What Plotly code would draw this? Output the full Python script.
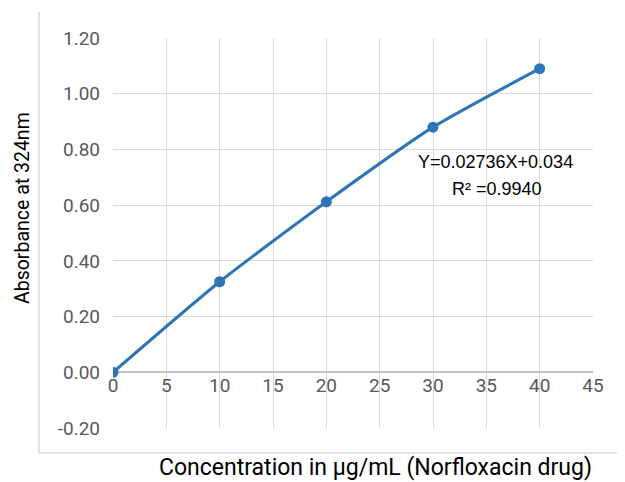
import plotly.graph_objects as go

conc = [0, 10, 20, 30, 40]
absorbance = [0.0, 0.325, 0.612, 0.880, 1.090]
x_ticks = [0, 5, 10, 15, 20, 25, 30, 35, 40, 45]
y_ticks = [-0.2, 0.0, 0.2, 0.4, 0.6, 0.8, 1.0, 1.2]
y_tick_text = ["-0.20", "0.00", "0.20", "0.40", "0.60", "0.80", "1.00", "1.20"]
eq_text = "Y=0.02736X+0.034"
r2_text = "R² =0.9940"
x_title = "Concentration in µg/mL (Norfloxacin drug)"
y_title = "Absorbance at 324nm"

# page has an 8px body margin; work in window pixels and subtract it
OFF = 8
W, H = 625 - OFF, 482 - OFF
PL, PR, PT, PB = 113, 593, 38, 428  # plot area in window pixels
L, T = PL - OFF, PT - OFF
R = W - (PR - OFF)
B = H - (PB - OFF)
ymin, ymax = -0.2, 1.2
zero_pos = (0 - ymin) / (ymax - ymin)

def px(xw):
    return (xw - PL) / (PR - PL)

def py(yw):
    return (PB - yw) / (PB - PT)

fig = go.Figure()
fig.add_trace(go.Scatter(
    x=conc, y=absorbance, mode="lines+markers",
    line=dict(color="#2f75b5", width=3, shape="spline", smoothing=0.6),
    marker=dict(color="#2f75b5", size=11),
    showlegend=False, hoverinfo="x+y"))
fig.add_trace(go.Scatter(x=[0, 45], y=[None, None], xaxis="x2", showlegend=False,
                         hoverinfo="skip"))

tick_font = dict(family="Roboto", size=19, color="#595959")
fig.update_layout(
    width=W, height=H,
    margin=dict(l=L, r=R, t=T, b=B),
    paper_bgcolor="white", plot_bgcolor="white",
    xaxis=dict(range=[0, 45], tickvals=x_ticks, showticklabels=False,
               showgrid=True, gridcolor="#d9d9d9", gridwidth=1,
               zeroline=False, showline=False, ticks=""),
    xaxis2=dict(range=[0, 45], tickvals=x_ticks, overlaying="x", anchor="free",
                position=zero_pos, side="bottom", showgrid=False, zeroline=False,
                showline=False, ticks="", tickfont=tick_font),
    yaxis=dict(range=[ymin, ymax], tickvals=y_ticks, ticktext=y_tick_text,
               showgrid=True, gridcolor="#d9d9d9", gridwidth=1,
               zeroline=True, zerolinecolor="#c4c4c4", zerolinewidth=1.5,
               showline=False, ticks="", tickfont=tick_font, ticklabelstandoff=12),
)

# outer frame lines (left and bottom)
fig.add_shape(type="line", xref="paper", yref="paper", x0=px(39), x1=px(39),
              y0=py(453), y1=py(12), line=dict(color="#d9d9d9", width=1.5))
fig.add_shape(type="line", xref="paper", yref="paper", x0=px(39), x1=px(640),
              y0=py(453), y1=py(453), line=dict(color="#d9d9d9", width=1.5))

def label(xw, yw, text, font, angle=0):
    fig.add_annotation(x=px(xw), y=py(yw), xref="paper", yref="paper", text=text,
                       showarrow=False, xanchor="center", yanchor="middle",
                       textangle=angle, font=font)

label(495, 162, eq_text, dict(family="Liberation Sans", size=18, color="black"))
label(497, 189, r2_text, dict(family="Liberation Sans", size=18, color="black"))
label(375, 467, x_title, dict(family="Roboto", size=23, color="black"))
label(22, 208, y_title, dict(family="Roboto", size=19.5, color="black"), angle=-90)

fig.write_html("out.html")
